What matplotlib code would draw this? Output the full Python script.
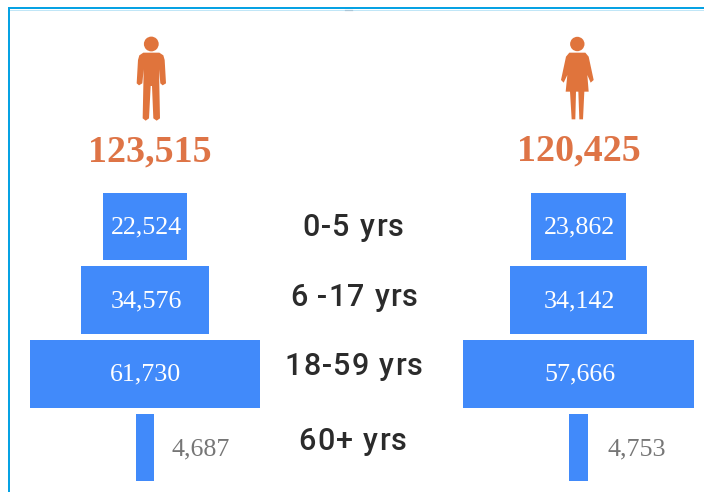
import matplotlib
matplotlib.use("Agg")
import matplotlib.pyplot as plt
from matplotlib.patches import Circle, Polygon

W, H = 704, 492

age_labels = ["0-5 yrs", "6 -17 yrs", "18-59 yrs", "60+ yrs"]
men = [22524, 34576, 61730, 4687]
women = [23862, 34142, 57666, 4753]
men_total = 123515
women_total = 120425

BLUE = "#418AFA"
ORANGE = "#E0743C"
TOTAL_ORANGE = "#DE7446"
GREY = "#767676"
SERIF = "Liberation Serif"


def pyramid(fig, values, left_px, right_px, outside_px):
    # one axes per side, the two sides do not share a scale in the original
    top_px, bottom_px = 193, 481
    ax = fig.add_axes([left_px / W, 1 - bottom_px / H,
                       (right_px - left_px) / W, (bottom_px - top_px) / H])
    biggest = max(values)
    ax.set_xlim(-biggest / 2, biggest / 2)
    ax.set_ylim(3.45, -0.45)
    ax.axis("off")
    for i, v in enumerate(values):
        ax.barh(i, v, left=-v / 2, height=0.91, color=BLUE)
        if v < 10000:
            ax.annotate(f"{v:,}", (v / 2, i), xytext=(outside_px * 0.72, -1.5),
                        textcoords="offset points", ha="left", va="center",
                        family=SERIF, fontsize=18.7, color=GREY)
        else:
            ax.annotate(f"{v:,}", (0, i), xytext=(0.7, -0.7),
                        textcoords="offset points", ha="center", va="center",
                        family=SERIF, fontsize=18.7, color="white")


def text_width(renderer, s, **kw):
    # bar added so that trailing spaces get counted
    t = bg.text(0, 0, s + "|", **kw)
    bar = bg.text(0, 0, "|", **kw)
    w = t.get_window_extent(renderer).width - bar.get_window_extent(renderer).width
    t.remove()
    bar.remove()
    return w


def spaced_text(renderer, cx, y, s, track, **kw):
    # matplotlib has no letter spacing, so set the label char by char
    total = text_width(renderer, s, **kw) + track * (len(s) - 1)
    x0 = cx - total / 2
    for i, ch in enumerate(s):
        x = x0 + text_width(renderer, s[:i], **kw) + track * i if i else x0
        bg.text(x, y, ch, ha="left", va="baseline", **kw)


fig = plt.figure(figsize=(W / 100, H / 100), dpi=100, facecolor="white")
renderer = fig.canvas.get_renderer()

# page level things are placed in pixels
bg = fig.add_axes([0, 0, 1, 1])
bg.set_xlim(0, W)
bg.set_ylim(H, 0)
bg.axis("off")

# frame, open on the right and at the bottom
bg.plot([8.5, 8.5, W], [H, 8.2, 8.2], color="#00A0E3", linewidth=1.4,
        solid_joinstyle="miter")
bg.plot([9.5, W], [9.8, 9.8], color="#BFE6F7", linewidth=0.7)
bg.plot([345, 352], [10, 10], color="#A9C6D8", linewidth=0.9)

# man icon, outline traced at 3x zoom
man = [(430, 158), (478, 158), (490, 166), (494, 180), (498, 250), (488, 256),
       (481, 250), (477, 208), (480, 355), (470, 362), (460, 355), (456, 258),
       (452, 258), (447, 355), (437, 362), (428, 355), (431, 208), (427, 250),
       (417, 256), (410, 250), (414, 180), (418, 166)]
bg.add_patch(Polygon([(x / 3, y / 3) for x, y in man], color=ORANGE, lw=0))
bg.add_patch(Circle((151.3, 44), 7.4, color=ORANGE, lw=0))

# woman icon, same way
woman = [(358, 158), (406, 158), (416, 170), (431, 240), (422, 248), (412, 225),
         (416, 275), (403, 275), (399, 358), (388, 358), (385, 275),
         (378, 275), (376, 358), (365, 358), (360, 275), (347, 275), (352, 225),
         (341, 248), (333, 240), (348, 170)]
bg.add_patch(Polygon([(450 + x / 3, y / 3) for x, y in woman], color=ORANGE, lw=0))
bg.add_patch(Circle((577.3, 44), 7.2, color=ORANGE, lw=0))

bg.text(150, 152, f"{men_total:,}", ha="center", va="center", family=SERIF,
        weight="bold", fontsize=27.4, color=TOTAL_ORANGE)
bg.text(578.5, 151, f"{women_total:,}", ha="center", va="center", family=SERIF,
        weight="bold", fontsize=27.4, color=TOTAL_ORANGE)

label_y = [236, 306, 375, 450]
label_x = [353, 354, 353.5, 352.5]
for label, x, y in zip(age_labels, label_x, label_y):
    spaced_text(renderer, x, y, label, 1.2, family="Roboto", weight="medium",
                fontsize=22, color="#2B2B2B")

pyramid(fig, men, 30, 260, 18)
pyramid(fig, women, 463, 694, 19)

fig.savefig("out.png", dpi=100)
